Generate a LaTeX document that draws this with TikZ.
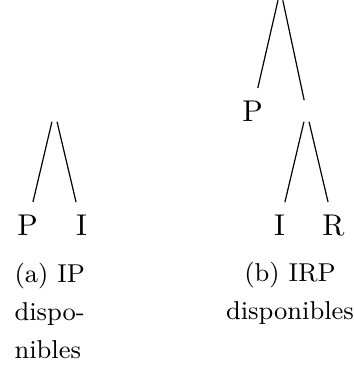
\documentclass[tikz,border=0pt]{standalone}
\usepackage{tikz}
\usetikzlibrary{positioning}

\begin{document}
\begin{tikzpicture}[
    x=0.333pt, y=-0.333pt, % one unit = one pixel of the layout
    inner/.style={circle, inner sep=0pt, minimum size=7pt},
    leaf/.style={inner sep=0pt, outer sep=0pt, text height=6.83pt, text depth=0pt,
                 minimum height=15.3pt, font=\normalsize},
    capt/.style={inner sep=0pt, font=\fontsize{8.6}{12.6}\selectfont},
    edge/.style={line width=0.4pt, draw=black}
  ]
    \useasboundingbox (0,0) rectangle (353,365);

    % Tree (a)
    \node[inner] (rootA) at (54.5,111) {};
    \node[leaf] (pA) at (27.5,225) {P};
    \node[leaf] (iA) at (81.5,225) {I};

    % Tree (b)
    \node[inner] (rootB) at (280.5,-10.5) {};
    \node[leaf] (pB) at (252.5,111) {P};
    \node[inner] (midB) at (306.5,111) {};
    \node[leaf] (iB) at (279.5,225) {I};
    \node[leaf] (rB) at (333.5,225) {R};

    % Edges
    \draw[edge] (rootA) -- (pA);
    \draw[edge] (rootA) -- (iA);
    \draw[edge] (rootB) -- (pB);
    \draw[edge] (rootB) -- (midB);
    \draw[edge] (midB) -- (iB);
    \draw[edge] (midB) -- (rB);

    % Captions (anchored on the baseline of their last line)
    \node[capt, anchor=base west, align=left] (captA) at (14,358.3)
      {(a) IP\\dispo-\\nibles};
    \node[capt, anchor=base, align=center] (captB) at (290,319)
      {(b) IRP\\disponibles};
  \end{tikzpicture}
\end{document}
